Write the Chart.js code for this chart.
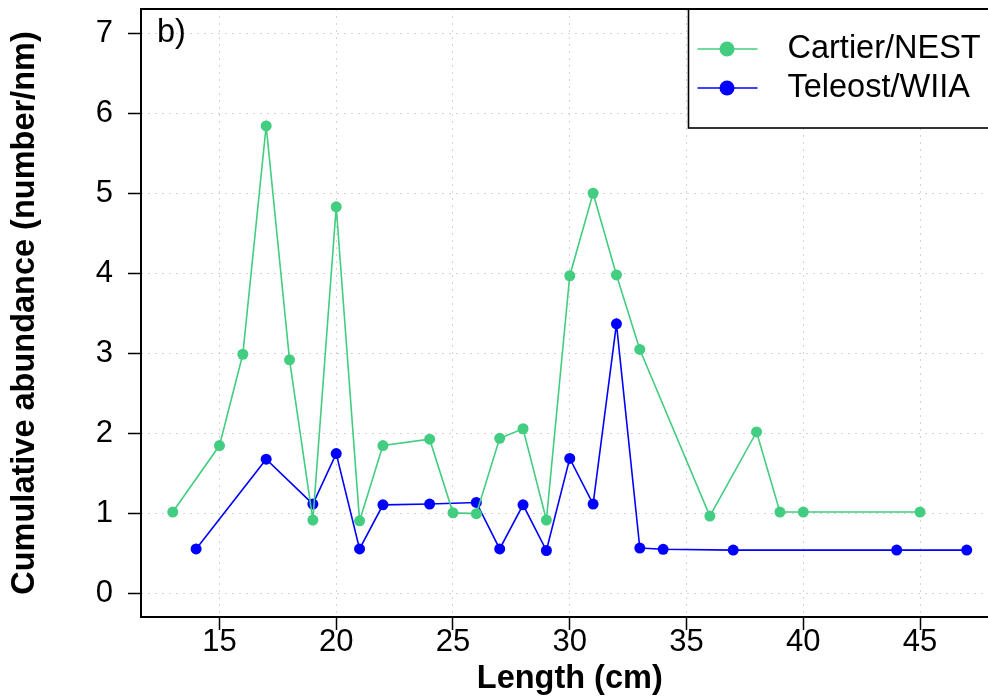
<!DOCTYPE html>
<html>
<head>
<meta charset="utf-8">
<script src="https://cdn.jsdelivr.net/npm/chart.js@4/dist/chart.umd.min.js"></script>
<style>
  html, body { margin: 0; padding: 0; background: #fff; overflow: hidden; }
</style>
</head>
<body>
<canvas id="chart" width="1004" height="700"></canvas>
<script>
// values
const cartierLength = [13, 15, 16, 17, 18, 19, 20, 21, 22, 24, 25, 26, 27, 28, 29, 30, 31, 32, 33, 36, 38, 39, 40, 45];
const cartierAbundance = [1.02, 1.85, 2.99, 5.84, 2.92, 0.92, 4.83, 0.91, 1.85, 1.93, 1.01, 1.0, 1.94, 2.06, 0.92, 3.97, 5.0, 3.98, 3.05, 0.97, 2.02, 1.02, 1.02, 1.02];
const teleostLength = [14, 17, 19, 20, 21, 22, 24, 26, 27, 28, 29, 30, 31, 32, 33, 34, 37, 44, 47];
const teleostAbundance = [0.56, 1.68, 1.12, 1.75, 0.56, 1.11, 1.12, 1.14, 0.56, 1.11, 0.54, 1.69, 1.12, 3.37, 0.57, 0.555, 0.545, 0.545, 0.545];

const xTickValues = [15, 20, 25, 30, 35, 40, 45];
const yTickValues = [0, 1, 2, 3, 4, 5, 6, 7];
const seriesLabels = ['Cartier/NEST', 'Teleost/WIIA'];
const seriesColors = ['#43CD80', '#0000FF'];
const panelLabel = 'b)';

const FONT = '"Liberation Sans", Arial, Helvetica, sans-serif';
Chart.defaults.font.family = FONT;
Chart.defaults.color = '#000';

const toPoints = (xs, ys) => xs.map((x, i) => ({ x: x, y: ys[i] }));

// box around the plot, legend and panel letter
const rDecorations = {
  id: 'rDecorations',
  afterDraw(chart) {
    const ctx = chart.ctx;
    const a = chart.chartArea;
    ctx.save();

    // legend box (top right, inside plot)
    const w = 310, h = 119;
    const lx = a.right - w, ly = a.top;
    ctx.fillStyle = '#fff';
    ctx.fillRect(lx, ly, w, h);
    ctx.strokeStyle = '#000';
    ctx.lineWidth = 1.6;
    ctx.strokeRect(lx, ly, w, h);
    chart.data.datasets.forEach((ds, i) => {
      const y = ly + 40 + i * 39;
      ctx.strokeStyle = ds.borderColor;
      ctx.lineWidth = 1.5;
      ctx.beginPath();
      ctx.moveTo(lx + 9, y);
      ctx.lineTo(lx + 69, y);
      ctx.stroke();
      ctx.fillStyle = ds.borderColor;
      ctx.beginPath();
      ctx.arc(lx + 38.5, y, 7.5, 0, Math.PI * 2);
      ctx.fill();
      ctx.fillStyle = '#000';
      ctx.font = '32.5px ' + FONT;
      ctx.textAlign = 'left';
      ctx.textBaseline = 'middle';
      ctx.fillText(ds.label, lx + 99, y);
    });

    // frame
    ctx.strokeStyle = '#000';
    ctx.lineWidth = 2;
    ctx.strokeRect(a.left, a.top, a.right - a.left, a.bottom - a.top);

    // panel letter
    ctx.fillStyle = '#000';
    ctx.font = '32.5px ' + FONT;
    ctx.textAlign = 'left';
    ctx.textBaseline = 'alphabetic';
    ctx.fillText(panelLabel, a.left + 16, a.top + 32.5);
    ctx.restore();
  }
};

new Chart(document.getElementById('chart'), {
  type: 'line',
  data: {
    datasets: [
      {
        label: seriesLabels[0],
        data: toPoints(cartierLength, cartierAbundance),
        borderColor: seriesColors[0],
        backgroundColor: seriesColors[0],
        pointBackgroundColor: seriesColors[0],
        borderWidth: 1.6,
        pointRadius: 5.5,
        pointBorderWidth: 0,
        tension: 0
      },
      {
        label: seriesLabels[1],
        data: toPoints(teleostLength, teleostAbundance),
        borderColor: seriesColors[1],
        backgroundColor: seriesColors[1],
        pointBackgroundColor: seriesColors[1],
        borderWidth: 1.6,
        pointRadius: 5.5,
        pointBorderWidth: 0,
        tension: 0
      }
    ]
  },
  options: {
    responsive: false,
    animation: false,
    layout: { padding: { top: 9, right: 2, left: 0, bottom: 0 } },
    plugins: {
      legend: { display: false },
      tooltip: { enabled: false }
    },
    scales: {
      x: {
        type: 'linear',
        min: 11.64,
        max: 48.36,
        afterBuildTicks: s => { s.ticks = xTickValues.map(v => ({ value: v })); },
        afterFit: s => { s.height = 83; s.paddingLeft = 0; s.paddingRight = 0; },
        ticks: {
          font: { size: 31 },
          color: '#000',
          padding: -6,
          maxRotation: 0,
          autoSkip: false
        },
        grid: {
          color: '#d3d3d3',
          lineWidth: 1,
          tickColor: '#000',
          tickWidth: 1.5,
          tickLength: 13,
          tickBorderDash: []
        },
        border: { display: false, dash: [2, 5] },
        title: {
          display: true,
          text: 'Length (cm)',
          font: { size: 32.5, weight: 'bold' },
          color: '#000',
          padding: { top: 0, bottom: 1 }
        }
      },
      y: {
        type: 'linear',
        min: -0.29,
        max: 7.30,
        afterBuildTicks: s => { s.ticks = yTickValues.map(v => ({ value: v })); },
        afterFit: s => { s.width = 141; s.paddingTop = 0; s.paddingBottom = 0; },
        ticks: {
          font: { size: 31 },
          color: '#000',
          padding: 15
        },
        grid: {
          color: '#d3d3d3',
          lineWidth: 1,
          tickColor: '#000',
          tickWidth: 1.5,
          tickLength: 13,
          tickBorderDash: []
        },
        border: { display: false, dash: [2, 5] },
        title: {
          display: true,
          text: 'Cumulative abundance (number/nm)',
          font: { size: 32.5, weight: 'bold' },
          color: '#000',
          padding: { top: 6, bottom: 0 }
        }
      }
    }
  },
  plugins: [rDecorations]
});
</script>
</body>
</html>
